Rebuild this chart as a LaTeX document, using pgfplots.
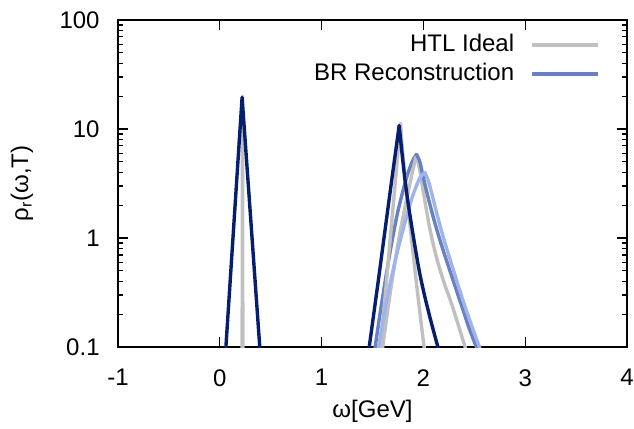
\documentclass[border=0pt]{standalone}
\usepackage{fontspec}
\setmainfont{Liberation Sans}
\usepackage{pgfplots}
\pgfplotsset{compat=1.18}
\definecolor{htlgray}{RGB}{192,192,192}
\definecolor{navyb}{RGB}{6,30,110}
\definecolor{midb}{RGB}{104,128,196}
\definecolor{lightb}{RGB}{160,180,236}
\begin{document}
\fontsize{12}{14.4}\selectfont
\begin{tikzpicture}
\begin{axis}[
  scale only axis,
  width=254.5pt, height=163.5pt,
  xmin=-1, xmax=4,
  ymode=log, ymin=0.1, ymax=100,
  xtick={-1,0,1,2,3,4},
  ytick={0.1,1,10,100},
  yticklabels={0.1,1,10,100},
  tick align=inside,
  tick pos=both,
  major tick length=5pt,
  minor tick length=2.5pt,
  every tick/.style={black, line width=0.6pt},
  axis line style={black, line width=0.9pt},
  /pgf/number format/assume math mode=true,
  tick label style={font=\fontsize{12}{14.4}\selectfont},
  xticklabel style={yshift=-7pt},
  yticklabel style={xshift=-5pt},
  xlabel={ω[GeV]},
  ylabel={ρ\textsubscript{r}(ω,T)},
  label style={font=\fontsize{12}{14.4}\selectfont},
  xlabel style={at={(axis description cs:0.5,-0.198)}, anchor=center},
  ylabel style={at={(axis description cs:-0.189,0.5)}, anchor=center},
  clip=true,
  legend plot pos=right,
  legend cell align=right,
  legend style={at={(rel axis cs:1,1)}, anchor=north east, draw=none, fill=none,
    xshift=-10.5pt, yshift=-3pt, row sep=0pt, column sep=6pt, font=\fontsize{12}{14.4}\selectfont},
  legend image code/.code={\draw[#1, line width=1.7pt, line cap=butt] (0pt,0pt) -- (33pt,0pt);},
  every axis plot/.append style={line width=1.7pt, line join=round, line cap=round},
]
% HTL ideal, narrow spike
\addplot[htlgray] coordinates {(0.219,0.05) (0.223,20) (0.227,0.05)};
\addlegendentry{HTL Ideal}
% BR reconstruction (mid blue), left side
\addplot[midb, smooth, tension=0.4] coordinates {
(1.49,0.0562) (1.53,0.1059) (1.578,0.2138) (1.63,0.4325) (1.686,0.8750)
(1.75,1.770) (1.834,3.573) (1.893,5.082) (1.932,5.861)};
\addlegendentry{BR Reconstruction}
% HTL ideal, second peak
\addplot[htlgray, smooth, tension=0.4, forget plot] coordinates {
(1.55,0.0490) (1.58,0.1) (1.64,0.4266) (1.69,1.445) (1.735,4.266) (1.775,11.22)};
\addplot[htlgray, smooth, tension=0.4, forget plot] coordinates {
(1.775,11.22) (1.80,5.623) (1.83,2.884) (1.88,1.047) (1.93,0.3981) (1.965,0.2089) (2.0,0.1122) (2.03,0.0708)};
% HTL ideal, third peak
\addplot[htlgray, smooth, tension=0.4, forget plot] coordinates {
(1.57,0.0562) (1.60,0.1) (1.69,0.3981) (1.77,1.122) (1.85,2.630) (1.90,4.365) (1.932,5.754)};
\addplot[htlgray, smooth, tension=0.4, forget plot] coordinates {
(1.932,5.754) (1.965,4.169) (2.0,2.630) (2.056,1.318) (2.10,0.8511) (2.15,0.5623)
(2.21,0.3715) (2.276,0.2512) (2.34,0.1622) (2.41,0.1) (2.46,0.0708)};
% mid blue, right side
\addplot[midb, smooth, tension=0.4, forget plot] coordinates {
(1.932,5.861) (1.965,5.012) (2.0,3.548) (2.05,2.291) (2.10,1.514) (2.15,1.047)
(2.20,0.7413) (2.25,0.5370) (2.30,0.3890) (2.35,0.2818) (2.40,0.2042) (2.45,0.1479)
(2.51,0.1059) (2.56,0.0794)};
% light blue reconstruction
\addplot[lightb, smooth, tension=0.4, forget plot] coordinates {
(1.53,0.0676) (1.565,0.1059) (1.62,0.2138) (1.686,0.4325) (1.762,0.8750)
(1.85,1.770) (1.90,2.512) (1.965,3.573) (2.014,3.981)};
\addplot[lightb, smooth, tension=0.4, forget plot] coordinates {
(2.014,3.981) (2.05,3.311) (2.09,2.399) (2.13,1.698) (2.17,1.230) (2.21,0.9120)
(2.26,0.6457) (2.31,0.4571) (2.36,0.3236) (2.42,0.2188) (2.48,0.1514) (2.54,0.1059) (2.59,0.0794)};
% navy reconstructions
\addplot[navyb, forget plot] coordinates {(0.03,0.0372) (0.219,19.5) (0.42,0.0437)};
\addplot[navyb, smooth, tension=0.4, forget plot] coordinates {
(1.44,0.0646) (1.50,0.1660) (1.56,0.4266) (1.62,1.122) (1.69,3.467) (1.762,10.72)};
\addplot[navyb, smooth, tension=0.4, forget plot] coordinates {
(1.762,10.72) (1.792,5.754) (1.817,3.548) (1.842,2.344) (1.866,1.660) (1.916,0.8511)
(1.965,0.4677) (2.012,0.2951) (2.062,0.1905) (2.135,0.1059) (2.182,0.0759)};
\end{axis}
\pgfresetboundingbox
\path ([xshift=-59pt,yshift=-40.5pt]current axis.south west) rectangle ([xshift=3.5pt,yshift=10pt]current axis.north east);
\end{tikzpicture}
\end{document}
